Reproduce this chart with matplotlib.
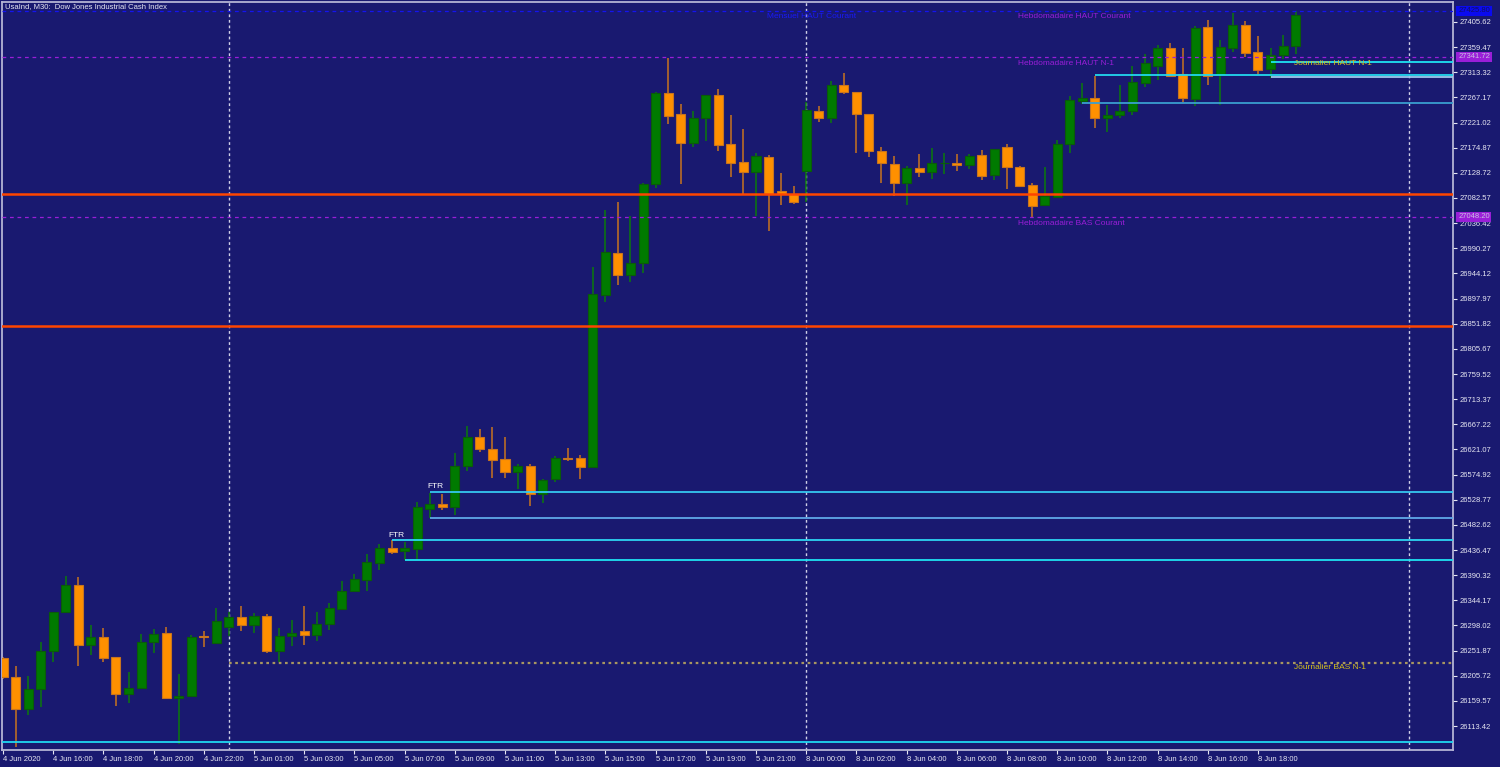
import matplotlib
matplotlib.use("Agg")
import matplotlib.pyplot as plt
import matplotlib.transforms as mtransforms

plt.rcParams['font.family'] = ['Liberation Sans', 'DejaVu Sans']

# ---------------- data ----------------
opens = [26238, 26203, 26144, 26181, 26251, 26322, 26372, 26262, 26277, 26240,
         26173, 26183, 26267, 26284, 26165, 26168, 26278, 26266, 26295, 26314,
         26299, 26316, 26252, 26278, 26287, 26281, 26301, 26329, 26361, 26381,
         26413, 26441, 26435, 26438, 26512, 26521, 26516, 26591, 26643, 26621,
         26603, 26580, 26591, 26540, 26566, 26606, 26605, 26589, 26904, 26982,
         26941, 26963, 27108, 27275, 27236, 27183, 27229, 27272, 27181, 27148,
         27131, 27158, 27095, 27089, 27132, 27243, 27229, 27290, 27277, 27236,
         27168, 27145, 27111, 27138, 27131, 27146, 27147, 27144, 27161, 27124,
         27177, 27140, 27106, 27070, 27085, 27182, 27261, 27266, 27229, 27234,
         27243, 27294, 27325, 27358, 27310, 27264, 27396, 27308, 27358, 27401,
         27351, 27319, 27345, 27362]
highs = [26240, 26224, 26206, 26267, 26323, 26389, 26387, 26299, 26294, 26241,
         26212, 26282, 26291, 26296, 26209, 26281, 26288, 26330, 26323, 26334,
         26320, 26319, 26293, 26308, 26334, 26323, 26340, 26380, 26392, 26429,
         26448, 26455, 26452, 26524, 26542, 26539, 26614, 26664, 26658, 26662,
         26643, 26594, 26594, 26567, 26609, 26624, 26610, 26955, 27060, 27076,
         27050, 27111, 27278, 27340, 27255, 27243, 27272, 27282, 27235, 27209,
         27165, 27162, 27128, 27105, 27258, 27251, 27297, 27312, 27277, 27236,
         27177, 27160, 27142, 27163, 27175, 27166, 27163, 27163, 27170, 27173,
         27181, 27142, 27111, 27140, 27189, 27270, 27294, 27307, 27253, 27290,
         27325, 27347, 27364, 27367, 27357, 27398, 27409, 27372, 27423, 27408,
         27380, 27357, 27382, 27425]
lows = [26200, 26075, 26134, 26148, 26231, 26322, 26224, 26244, 26230, 26151,
        26155, 26183, 26247, 26164, 26080, 26166, 26259, 26266, 26279, 26288,
        26284, 26248, 26230, 26260, 26262, 26270, 26290, 26329, 26361, 26362,
        26400, 26430, 26418, 26420, 26496, 26509, 26500, 26582, 26617, 26569,
        26569, 26548, 26518, 26522, 26561, 26599, 26566, 26588, 26892, 26922,
        26929, 26944, 27100, 27218, 27108, 27176, 27188, 27169, 27122, 27090,
        27050, 27022, 27070, 27072, 27076, 27222, 27221, 27274, 27166, 27157,
        27110, 27087, 27070, 27121, 27117, 27127, 27133, 27136, 27116, 27116,
        27099, 27102, 27047, 27070, 27085, 27166, 27255, 27211, 27203, 27229,
        27234, 27287, 27300, 27304, 27258, 27251, 27290, 27253, 27351, 27342,
        27310, 27303, 27338, 27346]
closes = [26203, 26144, 26181, 26251, 26322, 26372, 26262, 26277, 26239, 26173,
          26183, 26267, 26282, 26165, 26168, 26277, 26276, 26306, 26314, 26299,
          26316, 26252, 26279, 26284, 26281, 26300, 26330, 26362, 26383, 26414,
          26441, 26433, 26440, 26516, 26520, 26515, 26591, 26644, 26622, 26602,
          26580, 26591, 26540, 26565, 26605, 26604, 26589, 26906, 26984, 26941,
          26963, 27109, 27275, 27233, 27183, 27230, 27271, 27180, 27147, 27131,
          27160, 27090, 27090, 27075, 27244, 27229, 27290, 27277, 27236, 27168,
          27146, 27110, 27137, 27130, 27146, 27147, 27144, 27160, 27123, 27172,
          27140, 27105, 27068, 27086, 27182, 27262, 27266, 27229, 27234, 27243,
          27295, 27330, 27358, 27307, 27267, 27394, 27307, 27359, 27400, 27349,
          27317, 27345, 27362, 27419]

time_labels = ["4 Jun 2020", "4 Jun 16:00", "4 Jun 18:00", "4 Jun 20:00", "4 Jun 22:00",
               "5 Jun 01:00", "5 Jun 03:00", "5 Jun 05:00", "5 Jun 07:00", "5 Jun 09:00",
               "5 Jun 11:00", "5 Jun 13:00", "5 Jun 15:00", "5 Jun 17:00", "5 Jun 19:00",
               "5 Jun 21:00", "8 Jun 00:00", "8 Jun 02:00", "8 Jun 04:00", "8 Jun 06:00",
               "8 Jun 08:00", "8 Jun 10:00", "8 Jun 12:00", "8 Jun 14:00", "8 Jun 16:00",
               "8 Jun 18:00"]
time_label_bars = list(range(0, 104, 4))

price_ticks = [26113.42, 26159.57, 26205.72, 26251.87, 26298.02, 26344.17, 26390.32,
               26436.47, 26482.62, 26528.77, 26574.92, 26621.07, 26667.22, 26713.37,
               26759.52, 26805.67, 26851.82, 26897.97, 26944.12, 26990.27, 27036.42,
               27082.57, 27128.72, 27174.87, 27221.02, 27267.17, 27313.32, 27359.47,
               27405.62]

separator_bars = [18, 64, 112]

# support/resistance levels
orange_levels = [27089.3, 26847.6]
monthly_high = 27425.8
weekly_high_prev = 27341.72
weekly_low_cur = 27048.20
daily_low_prev = 26229.0
daily_low_start_bar = 18

# zone lines: (price, start bar, colour)
zone_prices = [26542.9, 26495.8, 26454.3, 26418.1, 27307.8, 27304.7, 27256.4, 27331.6, 26084.6]
zone_starts = [34, 34, 31, 32, 87, 101, 86, 101, -1]
zone_colors = ['#35C8F0', '#5FA8E8', '#2ED6F2', '#1FE3F2', '#22D8EE', '#9FC8EE',
               '#3A9FD0', '#1FE3F2', '#1FD8F2']

# ---------------- style ----------------
BG = '#191970'
BULL = '#007A00'
BULL_WICK = '#0B7A0B'
BEAR = '#FF9000'
BEAR_EDGE = '#C8741E'
TXT = '#E6E6F2'

X_LEFT, X_RIGHT = -0.08, 115.54
Y_BOT, Y_TOP = 26069.4, 27442.3

fig = plt.figure(figsize=(15, 7.67), dpi=100, facecolor=BG)
ax = fig.add_axes([2 / 1500, 17 / 767, 1451 / 1500, 748 / 767], facecolor=BG)
ax.set_xlim(X_LEFT, X_RIGHT)
ax.set_ylim(Y_BOT, Y_TOP)

# candles
n = len(opens)
xs = list(range(n))
for i in xs:
    o, h, l, c = opens[i], highs[i], lows[i], closes[i]
    bull = c >= o
    ax.vlines(i, l, h, color=BULL_WICK if bull else BEAR_EDGE, lw=1.1, zorder=2)
    bottom = min(o, c)
    height = max(abs(c - o), 0.6)
    ax.bar(i, height, bottom=bottom, width=0.72,
           color=BULL if bull else BEAR,
           edgecolor='#0A5A0A' if bull else BEAR_EDGE, linewidth=0.8, zorder=3)

# separators
for b in separator_bars:
    ax.axvline(b, color='#D0D0E8', lw=1.0, ls=(0, (2, 2)), zorder=1)

# orange levels
for p in orange_levels:
    ax.axhline(p, color='#FF4500', lw=1.8, zorder=5)

# dashed weekly / monthly levels
ax.axhline(monthly_high, color='#1414F0', lw=0.9, ls=(0, (3, 3)), zorder=4)
ax.axhline(weekly_high_prev, color='#9A1ED8', lw=0.9, ls=(0, (3, 3)), zorder=4)
ax.axhline(weekly_low_cur, color='#9A1ED8', lw=0.9, ls=(0, (3, 3)), zorder=4)

# daily low dotted
ax.hlines(daily_low_prev, daily_low_start_bar, X_RIGHT, color='#A89660', lw=1.6,
          ls=(0, (1.2, 1.6)), zorder=4)

# zone lines
for p, s, col in zip(zone_prices, zone_starts, zone_colors):
    ax.hlines(p, max(s, X_LEFT), X_RIGHT, color=col, lw=1.3, zorder=5)

# text labels
ax.text(60.9, 27415, "Mensuel HAUT Courant", color='#1A1AF5', fontsize=6, va='center', zorder=6)
ax.text(80.9, 27415, "Hebdomadaire HAUT Courant", color='#9A1ED8', fontsize=6, va='center', zorder=6)
ax.text(80.9, 27330, "Hebdomadaire HAUT N-1", color='#9A1ED8', fontsize=6, va='center', zorder=6)
ax.text(80.9, 27036.5, "Hebdomadaire BAS Courant", color='#9A1ED8', fontsize=6, va='center', zorder=6)
ax.text(102.9, 27330, "Journalier HAUT N-1", color='#D6C21A', fontsize=6, va='center', zorder=6)
ax.text(102.9, 26220, "Journalier BAS N-1", color='#D6C21A', fontsize=6, va='center', zorder=6)
ax.text(30.7, 26464, "FTR", color='white', fontsize=6, va='center', zorder=6)
ax.text(33.8, 26553, "FTR", color='white', fontsize=6, va='center', zorder=6)

fig.text(5 / 1500, 1 - 7 / 767, "UsaInd, M30:  Dow Jones Industrial Cash Index",
         color=TXT, fontsize=5.5, va='center', ha='left')

# axes styling
for sp in ['top', 'left', 'right', 'bottom']:
    ax.spines[sp].set_color('#B4B4D4')
    ax.spines[sp].set_linewidth(1.3)

ax.yaxis.tick_right()
ax.set_yticks(price_ticks)
ax.set_yticklabels([f"{p:.2f}" for p in price_ticks])
ax.tick_params(axis='y', colors=TXT, labelsize=5.5, length=3, width=0.8, pad=1.5)

ax.set_xticks(time_label_bars)
ax.set_xticklabels(time_labels)
ax.tick_params(axis='x', colors=TXT, labelsize=5.5, length=3, width=0.8, pad=1.5)
for lbl in ax.get_xticklabels():
    lbl.set_horizontalalignment('left')

# price boxes on right axis
trans = mtransforms.blended_transform_factory(ax.transAxes, ax.transData)
boxes = [(monthly_high, '#0A0AF0', '#101060'),
         (weekly_high_prev, '#9A1ED8', '#C8C0E0'),
         (weekly_low_cur, '#9A1ED8', '#C8C0E0')]
for p, fc, tc in boxes:
    ax.text(1.0035, p, f"{p:.2f}", transform=trans, fontsize=5.5, color=tc,
            va='center', ha='left', clip_on=False, zorder=10,
            bbox=dict(facecolor=fc, edgecolor='none', pad=1.2))

fig.savefig("out.png", dpi=100, facecolor=BG)
